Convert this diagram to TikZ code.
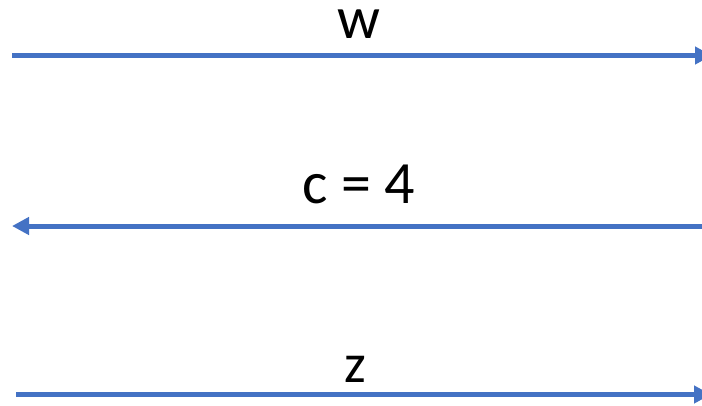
\documentclass[tikz,border=0pt]{standalone}
\usepackage{fontspec}
\setmainfont{Carlito}
\usetikzlibrary{arrows.meta}
\definecolor{lineblue}{HTML}{4472C4}
\begin{document}
\begin{tikzpicture}[x=1pt,y=-1pt,
  conn/.style={draw=lineblue, line width=5pt, -{Triangle[length=17pt,width=17pt]}},
  lbl/.style={anchor=base, inner sep=0pt, text=black}]
\useasboundingbox (0,0) rectangle (702,405);
\coordinate (ws) at (12,55.5);
\coordinate (we) at (712,55.5);
\coordinate (cs) at (702,226);
\coordinate (ce) at (12,226);
\coordinate (zs) at (16,394.5);
\coordinate (ze) at (711,394.5);
\draw[conn] (ws) -- (we);
\draw[conn] (cs) -- (ce);
\draw[conn] (zs) -- (ze);
\node[lbl, font=\fontsize{60}{72}\selectfont] (w) at (358.5,38) {w};
\node[lbl, font=\fontsize{60}{72}\selectfont] (c) at (359,203) {c = 4};
\node[lbl, font=\fontsize{55}{66}\selectfont] (z) at (355,382) {z};
\end{tikzpicture}
\end{document}
